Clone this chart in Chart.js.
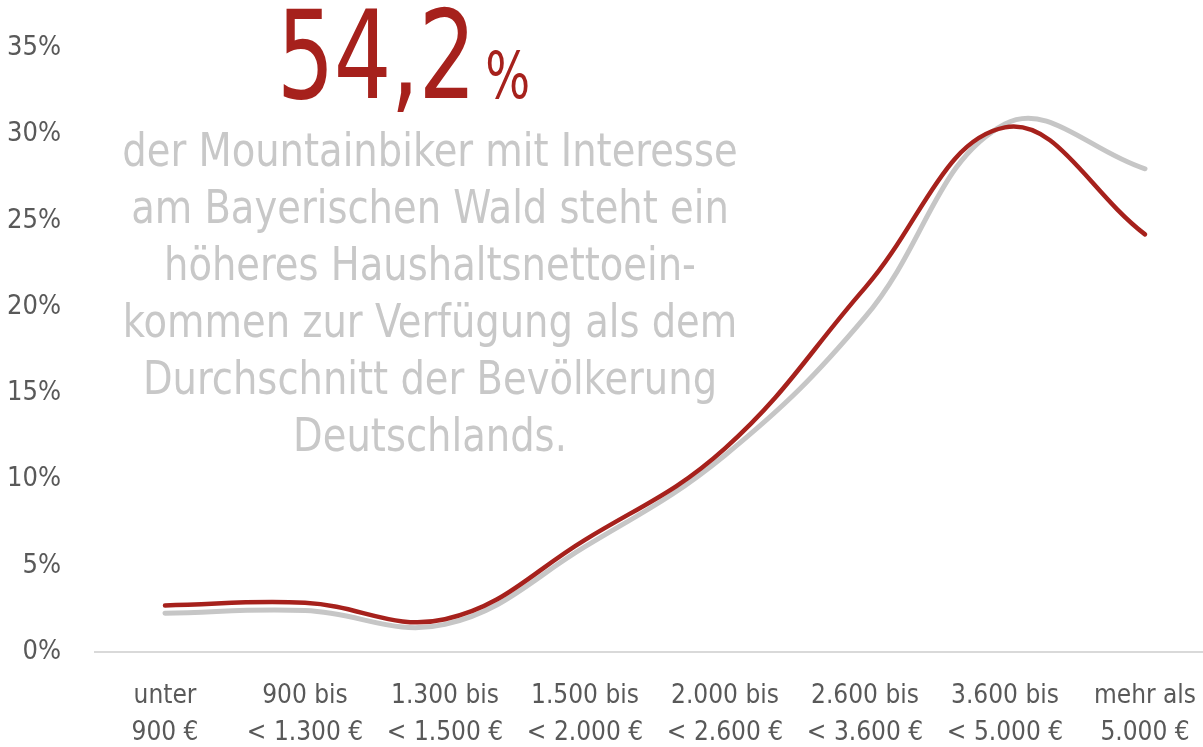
<!DOCTYPE html>
<html>
<head>
<meta charset="utf-8">
<script src="https://cdn.jsdelivr.net/npm/chart.js@4"></script>
<style>
  body { margin: 0; overflow: hidden; background: #fff; }
  #wrap { position: relative; width: 1215px; height: 747px; }
  .overlay { position: absolute; left: 0; top: 0; width: 860px; height: 480px;
    font-family: "DejaVu Sans Condensed", "DejaVu Sans", sans-serif; pointer-events: none; }
  #big { position: absolute; left: 0; top: -14px; width: 808px; text-align: center; color: #A6211C;
    font-size: 123px; line-height: 140px; white-space: nowrap; }
  #big .inner { display: inline-block; transform: scaleX(0.82); transform-origin: 50% 50%; letter-spacing: -1px; }
  #big .pct { font-size: 64px; margin-left: 12px; letter-spacing: 0; }
  #para { position: absolute; left: 0; top: 121px; width: 860px; text-align: center; color: #C8C8C8;
    font-size: 47px; line-height: 57px; white-space: nowrap; }
  #para .line { display: block; transform: scaleX(0.91); transform-origin: 50% 50%; }
</style>
</head>
<body>
<div id="wrap">
  <canvas id="incomeChart"></canvas>
  <div class="overlay">
    <div id="big"><span class="inner">54,2<span class="pct">%</span></span></div>
    <div id="para">
      <span class="line">der Mountainbiker mit Interesse</span>
      <span class="line">am Bayerischen Wald steht ein</span>
      <span class="line">höheres Haushaltsnettoein-</span>
      <span class="line">kommen zur Verfügung als dem</span>
      <span class="line">Durchschnitt der Bevölkerung</span>
      <span class="line">Deutschlands.</span>
    </div>
  </div>
</div>
<script>
// income brackets and shares (%)
const incomeLabels = [
  ['unter', '900 €'],
  ['900 bis', '< 1.300 €'],
  ['1.300 bis', '< 1.500 €'],
  ['1.500 bis', '< 2.000 €'],
  ['2.000 bis', '< 2.600 €'],
  ['2.600 bis', '< 3.600 €'],
  ['3.600 bis', '< 5.000 €'],
  ['mehr als', '5.000 €']
];
const bikerShare = [2.7, 2.85, 1.9, 6.5, 11.8, 21.1, 30.4, 24.2];
const populationShare = [2.25, 2.4, 1.6, 6.1, 11.4, 19.4, 30.6, 28.0];

const fontFamily = '"DejaVu Sans Condensed", "DejaVu Sans", sans-serif';

const ctx = document.getElementById('incomeChart').getContext('2d');
const incomeChart = new Chart(ctx, {
  type: 'line',
  data: {
    labels: incomeLabels,
    datasets: [
      {
        label: 'Mountainbiker',
        data: bikerShare,
        borderColor: '#A6211C',
        borderWidth: 4.5,
        borderCapStyle: 'round',
        pointRadius: 0,
        tension: 0.4,
        order: 0
      },
      {
        label: 'Bevölkerung',
        data: populationShare,
        borderColor: '#C6C6C6',
        borderWidth: 5,
        borderCapStyle: 'round',
        pointRadius: 0,
        tension: 0.4,
        order: 1
      }
    ]
  },
  options: {
    animation: false,
    responsive: true,
    maintainAspectRatio: false,
    layout: { padding: { top: 48, left: 0, right: 0, bottom: 0 } },
    plugins: {
      legend: { display: false },
      tooltip: { enabled: false }
    },
    scales: {
      x: {
        offset: true,
        grid: { display: false },
        border: { display: true, color: '#D9D9D9', width: 2 },
        ticks: {
          color: '#595959',
          padding: 18,
          maxRotation: 0,
          autoSkip: false,
          font: { family: fontFamily, size: 26, lineHeight: 1.42 }
        },
        afterFit: (scale) => { scale.height = 95; }
      },
      y: {
        min: 0,
        max: 35,
        grid: { display: false },
        border: { display: false },
        ticks: {
          stepSize: 5,
          color: '#595959',
          padding: 26,
          font: { family: fontFamily, size: 27 },
          callback: (v) => v + '%'
        },
        afterFit: (scale) => { scale.width = 95; }
      }
    }
  }
});
</script>
</body>
</html>
